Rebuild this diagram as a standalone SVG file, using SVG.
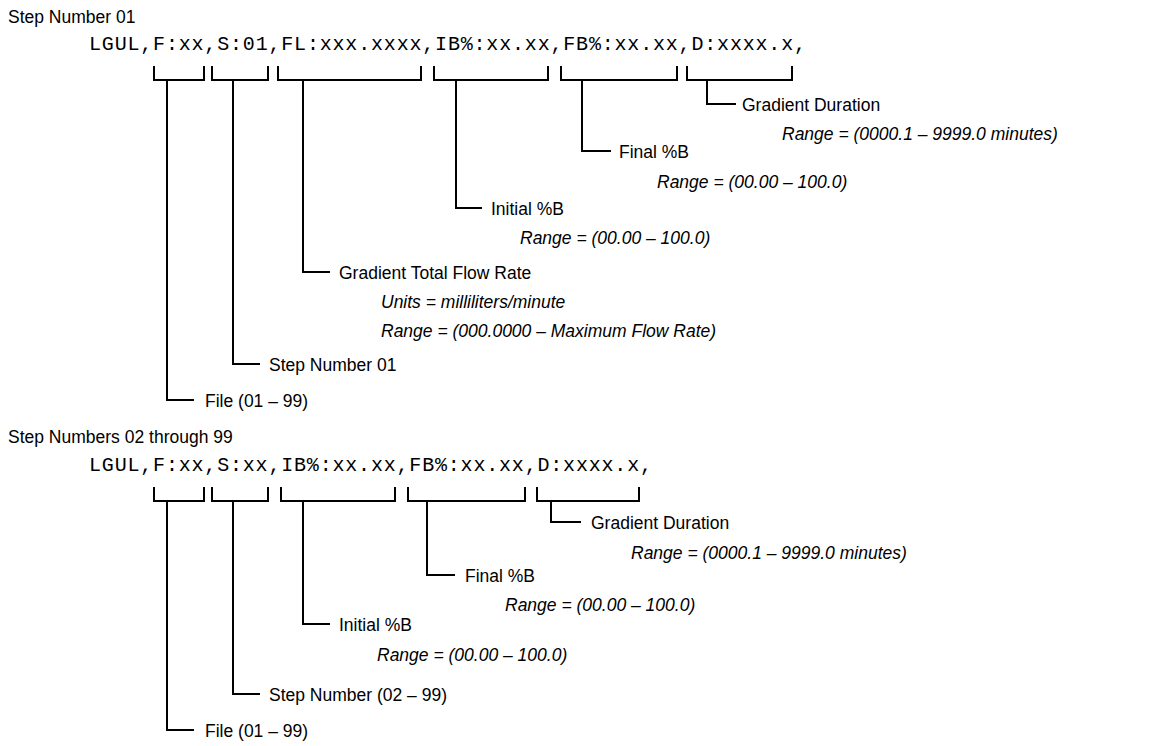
<svg xmlns="http://www.w3.org/2000/svg" width="1172" height="746" viewBox="0 0 1172 746">
<style>
.t{font-family:"Liberation Sans",Arial,sans-serif;font-size:17.5px;fill:#000}
.i{font-family:"Liberation Sans",Arial,sans-serif;font-size:17.5px;font-style:italic;fill:#000}
.m{font-family:"Liberation Mono","Courier New",monospace;font-size:20px;fill:#000}
.c{fill:none;stroke:#000;stroke-width:2;stroke-linecap:butt;stroke-linejoin:miter}
</style>
<rect width="1172" height="746" fill="#fff"/>
<g id="section1">
<text id="title1" class="t" x="8" y="23">Step Number 01</text>
<text id="cmd1" class="m" x="89" y="50" textLength="717" lengthAdjust="spacing">LGUL,F:xx,S:01,FL:xxx.xxxx,IB%:xx.xx,FB%:xx.xx,D:xxxx.x,</text>
<g id="n1-duration"><text class="t" x="742" y="111">Gradient Duration</text><text class="i" x="782" y="140">Range = (0000.1 – 9999.0 minutes)</text></g>
<g id="n1-final"><text class="t" x="619" y="158">Final %B</text><text class="i" x="657" y="188">Range = (00.00 – 100.0)</text></g>
<g id="n1-initial"><text class="t" x="491" y="215">Initial %B</text><text class="i" x="520" y="244">Range = (00.00 – 100.0)</text></g>
<g id="n1-flow"><text class="t" x="339" y="279">Gradient Total Flow Rate</text><text class="i" x="381" y="308">Units = milliliters/minute</text><text class="i" x="381" y="337">Range = (000.0000 – Maximum Flow Rate)</text></g>
<g id="n1-step"><text class="t" x="269" y="371">Step Number 01</text></g>
<g id="n1-file"><text class="t" x="205" y="407">File (01 – 99)</text></g>
</g>
<g id="section2">
<text id="title2" class="t" x="8" y="443">Step Numbers 02 through 99</text>
<text id="cmd2" class="m" x="89" y="471" textLength="563" lengthAdjust="spacing">LGUL,F:xx,S:xx,IB%:xx.xx,FB%:xx.xx,D:xxxx.x,</text>
<g id="n2-duration"><text class="t" x="591" y="529">Gradient Duration</text><text class="i" x="631" y="559">Range = (0000.1 – 9999.0 minutes)</text></g>
<g id="n2-final"><text class="t" x="465" y="582">Final %B</text><text class="i" x="505" y="611">Range = (00.00 – 100.0)</text></g>
<g id="n2-initial"><text class="t" x="339" y="631">Initial %B</text><text class="i" x="377" y="661">Range = (00.00 – 100.0)</text></g>
<g id="n2-step"><text class="t" x="269" y="701">Step Number (02 – 99)</text></g>
<g id="n2-file"><text class="t" x="205" y="737">File (01 – 99)</text></g>
</g>
<g id="connectors" class="c">
<path d="M154,66V80H204V66"/>
<path d="M212,66V80H268V66"/>
<path d="M278,66V80H421V66"/>
<path d="M434,66V80H548V66"/>
<path d="M561,66V80H677V66"/>
<path d="M687,66V80H792V66"/>
<path d="M707,80V104H736"/>
<path d="M582,80V151H611"/>
<path d="M456,80V208H482"/>
<path d="M303,80V272H330"/>
<path d="M233,80V364H260"/>
<path d="M167,80V400H194"/>
<path d="M154,487V501H204V487"/>
<path d="M212,487V501H268V487"/>
<path d="M281,487V501H395V487"/>
<path d="M408,487V501H525V487"/>
<path d="M537,487V501H639V487"/>
<path d="M551,501V522H581"/>
<path d="M427,501V575H455"/>
<path d="M303,501V624H330"/>
<path d="M233,501V694H260"/>
<path d="M167,501V730H194"/>
</g>
</svg>
